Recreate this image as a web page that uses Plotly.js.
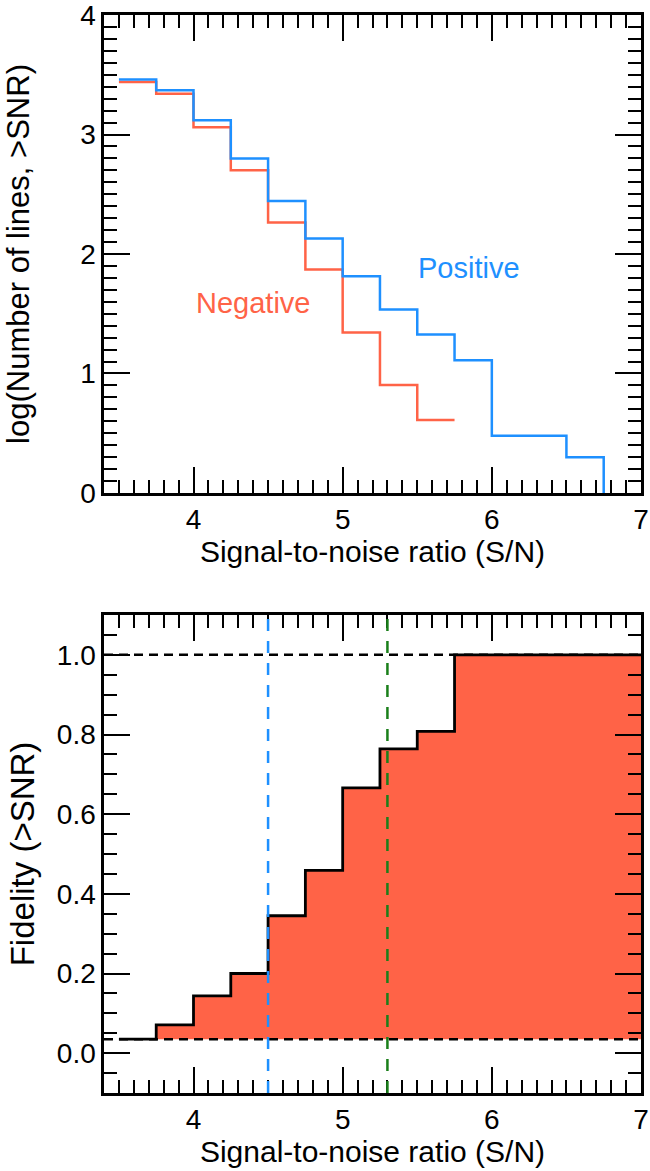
<!DOCTYPE html>
<html>
<head>
<meta charset="utf-8">
<script src="https://cdn.plot.ly/plotly-3.0.1.min.js"></script>
<style>html,body{margin:0;padding:0;background:#fff;}#chart{width:650px;height:1171px;}</style>
</head>
<body>
<div id="chart"></div>
<script>
// ---- data ----
// bin edges (S/N) for the cumulative counts
var snrEdges = [3.5, 3.75, 4.0, 4.25, 4.5, 4.75, 5.0, 5.25, 5.5, 5.75, 6.0, 6.25, 6.5, 6.75, 7.0];
// log10(number of lines > SNR), one value per bin (positive ends with a drop to 0 at 6.75)
var positiveLog = [3.46, 3.37, 3.12, 2.80, 2.444, 2.13, 1.814, 1.536, 1.327, 1.11, 0.48, 0.48, 0.30, 0.0];
var negativeLog = [3.44, 3.34, 3.06, 2.70, 2.263, 1.87, 1.343, 0.903, 0.61];
// fidelity (> SNR), one value per bin
var fidelity = [0.035, 0.071, 0.144, 0.200, 0.345, 0.459, 0.666, 0.764, 0.808, 1.0, 1.0, 1.0, 1.0, 1.0];
// reference levels
var fidelityRefLevels = [1.0, 0.035];
var snrThresholds = [4.5, 5.3];
var thresholdColors = ['#1E90FF', '#1a7f1a'];
var xTickVals = [4, 5, 6, 7];

function stepXY(vals, extendLast) {
  var xs = [], ys = [];
  for (var i = 0; i < vals.length; i++) { xs.push(snrEdges[i]); ys.push(vals[i]); }
  if (extendLast) { xs.push(snrEdges[vals.length]); ys.push(vals[vals.length - 1]); }
  return {x: xs, y: ys};
}

var RED = '#FF6347', BLUE = '#1E90FF';
var pos = stepXY(positiveLog, false), neg = stepXY(negativeLog, true), fid = stepXY(fidelity, true);

var traces = [
  {x: neg.x, y: neg.y, xaxis: 'x', yaxis: 'y', mode: 'lines', line: {shape: 'hv', color: RED, width: 2.5}, hoverinfo: 'skip'},
  {x: pos.x, y: pos.y, xaxis: 'x', yaxis: 'y', mode: 'lines', line: {shape: 'hv', color: BLUE, width: 2.5}, hoverinfo: 'skip'},
  {x: [snrEdges[0], snrEdges[snrEdges.length - 1]], y: [fidelityRefLevels[1], fidelityRefLevels[1]], xaxis: 'x2', yaxis: 'y2', mode: 'lines', line: {width: 0, color: 'rgba(0,0,0,0)'}, hoverinfo: 'skip'},
  {x: fid.x, y: fid.y, xaxis: 'x2', yaxis: 'y2', mode: 'lines', fill: 'tonexty', fillcolor: RED, line: {shape: 'hv', color: 'black', width: 2.8}, hoverinfo: 'skip'}
];

var FAM = '"Liberation Sans", Arial, Helvetica, sans-serif';
var TICKFONT = {family: FAM, size: 28, color: 'black'};
function tf(s) { return {family: FAM, size: s, color: 'black'}; }

function xax(anchor) {
  return {
    anchor: anchor, domain: [0, 1], range: [3.4, 7], tickvals: xTickVals, ticks: 'inside', ticklen: 26, tickwidth: 2,
    tickcolor: 'black', showline: true, linewidth: 2.6, linecolor: 'black', mirror: 'allticks', showgrid: false, zeroline: false,
    minor: {dtick: 0.1, tick0: 0, ticks: 'inside', ticklen: 13, tickwidth: 2, tickcolor: 'black', showgrid: false},
    tickfont: TICKFONT, ticklabeloverflow: 'allow',
    title: {text: 'Signal-to-noise ratio (S/N)', font: tf(30), standoff: 4}
  };
}

var layout = {
  width: 650, height: 1171,
  margin: {l: 104, r: 9, t: 15, b: 78},
  paper_bgcolor: 'white', plot_bgcolor: 'white',
  showlegend: false,
  font: TICKFONT,
  xaxis: xax('y'),
  yaxis: {
    domain: [0.5566, 1], anchor: 'x', range: [0, 4], dtick: 1, tick0: 0, ticks: 'inside', ticklen: 26, tickwidth: 2, tickcolor: 'black',
    showline: true, linewidth: 2.6, linecolor: 'black', mirror: 'allticks', showgrid: false, zeroline: false,
    minor: {dtick: 0.1, tick0: 0, ticks: 'inside', ticklen: 13, tickwidth: 2, tickcolor: 'black', showgrid: false},
    tickfont: TICKFONT, ticklabeloverflow: 'allow', title: {text: 'log(Number of lines, >SNR)', font: tf(31), standoff: 42}
  },
  xaxis2: xax('y2'),
  yaxis2: {
    domain: [0, 0.4434], anchor: 'x2', range: [-0.1, 1.1], dtick: 0.2, tick0: 0, tickformat: '.1f', ticks: 'inside', ticklen: 26, tickwidth: 2, tickcolor: 'black',
    showline: true, linewidth: 2.6, linecolor: 'black', mirror: 'allticks', showgrid: false, zeroline: false,
    minor: {dtick: 0.05, tick0: 0, ticks: 'inside', ticklen: 13, tickwidth: 2, tickcolor: 'black', showgrid: false},
    tickfont: TICKFONT, ticklabeloverflow: 'allow', title: {text: 'Fidelity (>SNR)', font: tf(33), standoff: 13}
  },
  annotations: [
    {x: 5.85, y: 1.88, xref: 'x', yref: 'y', text: 'Positive', showarrow: false, font: {family: FAM, size: 29, color: BLUE}},
    {x: 4.40, y: 1.59, xref: 'x', yref: 'y', text: 'Negative', showarrow: false, font: {family: FAM, size: 29, color: RED}}
  ],
  shapes: []
};

fidelityRefLevels.forEach(function (lv) {
  layout.shapes.push({type: 'line', xref: 'x2 domain', yref: 'y2', x0: 0, x1: 1, y0: lv, y1: lv, layer: 'above',
    line: {color: 'black', width: 2.5, dash: '9px,6px'}});
});
snrThresholds.forEach(function (t, i) {
  layout.shapes.push({type: 'line', xref: 'x2', yref: 'y2 domain', x0: t, x1: t, y0: 0, y1: 1, layer: 'above',
    line: {color: thresholdColors[i], width: 2.5, dash: '12px,10px'}});
});

Plotly.newPlot('chart', traces, layout, {staticPlot: true, displayModeBar: false});
</script>
</body>
</html>
